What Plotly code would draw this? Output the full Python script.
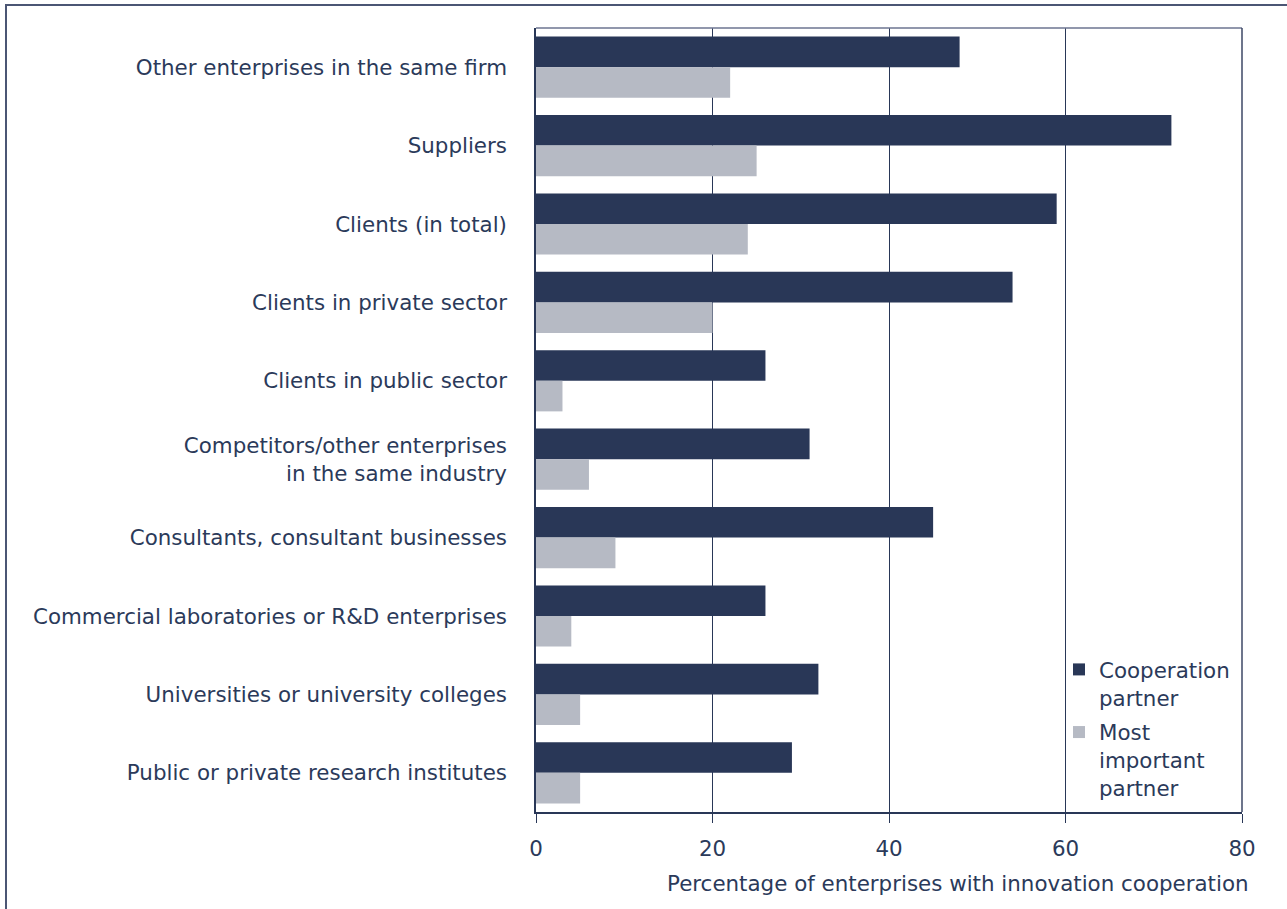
import plotly.graph_objects as go

categories = [
    "Other enterprises in the same firm",
    "Suppliers",
    "Clients (in total)",
    "Clients in private sector",
    "Clients in public sector",
    "Competitors/other enterprises<br>in the same industry",
    "Consultants, consultant businesses",
    "Commercial laboratories or R&D enterprises",
    "Universities or university colleges",
    "Public or private research institutes",
]
cooperation_partner = [48, 72, 59, 54, 26, 31, 45, 26, 32, 29]
most_important_partner = [22, 25, 24, 20, 3, 6, 9, 4, 5, 5]
x_ticks = [0, 20, 40, 60, 80]

navy = "#293757"
gray = "#b6bac4"
text_col = "#2b3a5a"
font_family = "DejaVu Sans, Verdana, sans-serif"
fs = 21.4

W, H = 1287, 909
L, R, T, B = 536, 45, 28, 97

fig = go.Figure()
fig.add_trace(go.Bar(
    y=categories, x=cooperation_partner, orientation="h",
    name="Cooperation<br>partner", legendgroup="a",
    marker=dict(color=navy, line=dict(width=0)),
))
fig.add_trace(go.Bar(
    y=categories, x=most_important_partner, orientation="h",
    name="Most<br>important<br>partner", legendgroup="b",
    marker=dict(color=gray, line=dict(width=0)),
))

pw = W - L - R
ph = H - T - B

shapes = [
    # outer frame
    dict(type="rect", xref="paper", yref="paper",
         x0=(6 - L) / pw, x1=(W + 20 - L) / pw,
         y0=-(B + 20) / ph, y1=1 + (T - 5) / ph,
         line=dict(color="#4b5674", width=2)),
    # top and right plot borders
    dict(type="line", xref="paper", yref="paper", x0=0, x1=1, y0=1, y1=1,
         line=dict(color="#6c7590", width=1.5)),
    dict(type="line", xref="paper", yref="paper", x0=1, x1=1, y0=0, y1=1,
         line=dict(color="#3c4766", width=1.5)),
]

fig.update_layout(
    width=W, height=H,
    margin=dict(l=L, r=R, t=T, b=B),
    paper_bgcolor="white", plot_bgcolor="white",
    barmode="group", bargap=0.22, bargroupgap=0,
    font=dict(family=font_family, size=fs, color=text_col),
    showlegend=True,
    legend=dict(x=(1059 - L) / pw, y=(812 - 649) / ph, xanchor="left", yanchor="top",
                bgcolor="rgba(0,0,0,0)", borderwidth=0, valign="top",
                font=dict(size=fs, color=text_col), tracegroupgap=4),
    shapes=shapes,
    annotations=[dict(
        text="Percentage of enterprises with innovation cooperation",
        xref="paper", yref="paper", x=(1251 - L) / pw, y=-(883 - 812) / ph,
        xanchor="right", yanchor="middle", showarrow=False,
        font=dict(size=fs, color=text_col),
    )],
)
fig.update_xaxes(
    range=[0, 80], tickvals=x_ticks, ticks="outside", ticklen=9, tickcolor=navy,
    showline=True, linecolor=navy, linewidth=2, ticklabelstandoff=7,
    showgrid=True, gridcolor=navy, gridwidth=1, zeroline=False,
    tickfont=dict(size=fs, color=text_col),
)
fig.update_yaxes(
    autorange="reversed", showline=True, linecolor=navy, linewidth=1.5,
    showgrid=False, ticks="", ticklabelstandoff=23,
    tickfont=dict(size=fs, color=text_col),
)

fig.write_html("out.html", config={"displayModeBar": False},
               post_script="document.body.style.margin='0';")
